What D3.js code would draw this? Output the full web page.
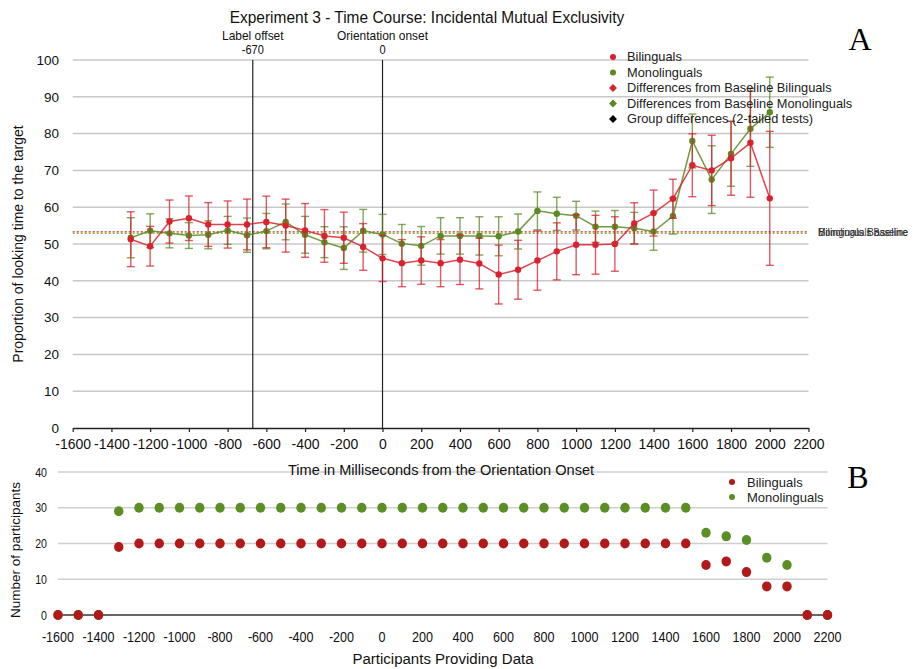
<!DOCTYPE html>
<html>
<head>
<meta charset="utf-8">
<script src="https://cdn.jsdelivr.net/npm/d3@7"></script>
<style>
  html, body { margin: 0; padding: 0; background: #fff; }
  svg { display: block; }
</style>
</head>
<body>
<svg id="chart" width="913" height="669"></svg>
<script>
// ---- Panel A: proportion of looking time to the target ----
const times = [-1300,-1200,-1100,-1000,-900,-800,-700,-600,-500,-400,-300,-200,-100,0,
  100,200,300,400,500,600,700,800,900,1000,1100,1200,1300,1400,1500,1600,1700,1800,1900,2000];

const bilingualMean = [51.3,49.4,56.1,57.0,55.3,55.3,55.3,56.0,55.0,53.7,52.2,51.7,49.2,46.1,
  44.8,45.5,44.8,45.7,44.7,41.7,43.0,45.5,48.0,49.8,49.8,50.0,55.6,58.4,62.3,71.4,70.0,73.3,77.5,62.4];
const bilingualErr = [7.45,5.4,5.85,6.05,5.95,6.4,6.9,7.0,7.2,7.3,7.15,6.95,6.35,6.3,
  6.4,6.45,6.4,6.7,6.9,8.0,8.0,8.05,7.75,8.15,8.0,7.4,5.6,6.25,5.3,8.55,9.55,10.05,14.8,18.2];

const monolingualMean = [51.7,53.6,52.9,52.3,52.5,53.7,52.4,53.5,56.0,52.5,50.5,48.9,53.6,52.6,
  50.1,49.5,52.2,52.2,52.2,52.1,53.4,59.0,58.2,57.7,54.7,54.7,54.3,53.4,57.6,78.0,67.5,74.5,81.3,85.8];
const monolingualErr = [5.45,4.6,3.95,3.5,3.8,3.8,4.65,4.8,4.85,5.0,4.2,5.8,5.8,5.45,
  5.2,5.25,4.95,4.95,5.2,5.3,4.75,5.15,4.5,3.9,4.25,4.4,4.3,5.1,4.9,7.3,9.2,8.8,10.2,9.55];

const bilingualBaseline = 53.3;
const monolingualBaseline = 52.9;

const markerTimes = [-670, 0];
const markerNames = ["Label offset", "Orientation onset"];

const topXTicks = d3.range(-1600, 2201, 200);
const topYTicks = [0,10,20,30,40,50,60,70,80,90,100];

const legendA = ["Bilinguals", "Monolinguals", "Differences from Baseline Bilinguals",
  "Differences from Baseline Monolinguals", "Group differences (2-tailed tests)"];

// ---- Panel B: number of participants providing data ----
const countTimes = d3.range(-1600, 2201, 100);
const bilingualCount = [0,0,0,19,20,20,20,20,20,20,20,20,20,20,20,20,20,20,20,20,20,20,20,20,20,20,20,20,20,20,20,20,14,15,12,8,8,0,0];
const monolingualCount = [0,0,0,29,30,30,30,30,30,30,30,30,30,30,30,30,30,30,30,30,30,30,30,30,30,30,30,30,30,30,30,30,23,22,21,16,14,0,0];
const bottomXTicks = d3.range(-1600, 2201, 200);
const bottomYTicks = [0,10,20,30,40];

// ---- styling ----
const RED = "#d8222f", GREEN = "#5a8a22";
const RED_DOT = "#b21a1a", GREEN_DOT = "#5b8e25";
const SANS = "'Liberation Sans', Arial, Helvetica, sans-serif";
const SERIF = "'Liberation Serif', 'Times New Roman', serif";

const svg = d3.select("#chart");

// condensed text: regular sans squeezed horizontally around its anchor point
function narrowText(parent, x, y, str, size, sx, anchor) {
  return parent.append("text")
    .attr("transform", `translate(${x},${y}) scale(${sx},1)`)
    .attr("text-anchor", anchor || "middle")
    .attr("font-family", SANS).attr("font-size", size).attr("fill", "#111")
    .text(str);
}

// scales
const xA = d3.scaleLinear().domain([-1600, 2200]).range([72.7, 808.5]);
const yA = d3.scaleLinear().domain([0, 100]).range([428, 60]);
const xB = d3.scaleLinear().domain([-1600, 2200]).range([58, 827.5]);
const yB = d3.scaleLinear().domain([0, 40]).range([615, 472]);

// ================= Panel A =================
const gA = svg.append("g");

// horizontal gridlines
gA.selectAll("line.grid").data(topYTicks.filter(d => d > 0)).join("line")
  .attr("x1", xA(-1600)).attr("x2", xA(2200))
  .attr("y1", d => yA(d)).attr("y2", d => yA(d))
  .attr("stroke", "#c8c8c8").attr("stroke-width", 1.5);

// y tick labels
gA.selectAll("text.ytick").data(topYTicks).join("text")
  .attr("x", 59).attr("y", d => yA(d)).attr("dy", "0.35em")
  .attr("text-anchor", "end")
  .attr("font-family", SANS).attr("font-size", 13.5).attr("fill", "#111")
  .text(d => d);

// x axis
const axA = d3.axisBottom(xA).tickValues(topXTicks).tickSize(4).tickSizeOuter(0).tickPadding(7)
  .tickFormat(d => d);
const axAg = gA.append("g").attr("transform", `translate(0,${yA(0)})`).call(axA);
axAg.select(".domain").attr("stroke", "#222").attr("stroke-width", 1.5);
axAg.selectAll(".tick line").attr("stroke", "#222").attr("stroke-width", 1.2);
axAg.selectAll(".tick text").attr("font-family", SANS).attr("font-size", 14).attr("fill", "#111");

// baselines
[[bilingualBaseline, "#e0202a", "Bilinguals Baseline"],
 [monolingualBaseline, "#7fbf3a", "Monolinguals Baseline"]].forEach(([v, c, label]) => {
  gA.append("line")
    .attr("x1", xA(-1600)).attr("x2", xA(2200))
    .attr("y1", yA(v)).attr("y2", yA(v))
    .attr("stroke", c).attr("stroke-width", 1.3).attr("stroke-dasharray", "2,2");
  gA.append("text")
    .attr("x", 818).attr("y", yA(53.1)).attr("dy", "0.35em")
    .attr("font-family", SANS).attr("font-size", 10.5).attr("fill", "#333")
    .attr("textLength", 90).attr("lengthAdjust", "spacingAndGlyphs")
    .text(label);
});

// event markers
markerTimes.forEach((t, i) => {
  gA.append("line")
    .attr("x1", xA(t)).attr("x2", xA(t)).attr("y1", yA(100)).attr("y2", yA(0))
    .attr("stroke", "#222").attr("stroke-width", 1.2);
  narrowText(gA, xA(t), 40, markerNames[i], 13, 0.92);
  narrowText(gA, xA(t), 54, t, 12, 0.92);
});

// series
function drawSeries(mean, err, color) {
  const data = times.map((t, i) => ({ t, m: mean[i], e: err[i] }));
  const g = gA.append("g");
  const bars = g.selectAll("g.bar").data(data).join("g").attr("stroke", color)
    .attr("stroke-width", 1.4).attr("stroke-opacity", 0.75);
  bars.append("line").attr("x1", d => xA(d.t)).attr("x2", d => xA(d.t))
    .attr("y1", d => yA(d.m - d.e)).attr("y2", d => yA(d.m + d.e));
  bars.append("line").attr("x1", d => xA(d.t) - 4).attr("x2", d => xA(d.t) + 4)
    .attr("y1", d => yA(d.m - d.e)).attr("y2", d => yA(d.m - d.e));
  bars.append("line").attr("x1", d => xA(d.t) - 4).attr("x2", d => xA(d.t) + 4)
    .attr("y1", d => yA(d.m + d.e)).attr("y2", d => yA(d.m + d.e));
  g.append("path").datum(data)
    .attr("d", d3.line().x(d => xA(d.t)).y(d => yA(d.m)))
    .attr("fill", "none").attr("stroke", color).attr("stroke-width", 1.5).attr("stroke-opacity", 0.85);
  g.selectAll("circle").data(data).join("circle")
    .attr("cx", d => xA(d.t)).attr("cy", d => yA(d.m)).attr("r", 3.2).attr("fill", color);
}
drawSeries(monolingualMean, monolingualErr, GREEN);
drawSeries(bilingualMean, bilingualErr, RED);

// legend A
const legA = gA.append("g");
const legColors = [RED, GREEN, RED, GREEN, "#000"];
legendA.forEach((label, i) => {
  const y = 57 + i * 15.5;
  if (i < 2) {
    legA.append("circle").attr("cx", 613).attr("cy", y).attr("r", 3).attr("fill", legColors[i]);
  } else {
    legA.append("path").attr("d", d3.symbol(d3.symbolDiamond2, 40)())
      .attr("transform", `translate(613,${y})`).attr("fill", legColors[i]);
  }
  legA.append("text").attr("x", 627).attr("y", y).attr("dy", "0.35em")
    .attr("font-family", SANS).attr("font-size", 12.8).attr("fill", "#222").text(label);
});

// title and axis titles
narrowText(svg, 427, 23, "Experiment 3 - Time Course: Incidental Mutual Exclusivity", 17, 0.91);
svg.append("text").attr("transform", "translate(23,244) rotate(-90)").attr("text-anchor", "middle")
  .attr("font-family", SANS).attr("font-size", 14).attr("fill", "#111")
  .text("Proportion of looking time to the target");
svg.append("text").attr("x", 860).attr("y", 50).attr("text-anchor", "middle")
  .attr("font-family", SERIF).attr("font-size", 32).attr("fill", "#000").text("A");

// ================= Panel B =================
const gB = svg.append("g");

gB.selectAll("line.grid").data(bottomYTicks.filter(d => d > 0)).join("line")
  .attr("x1", xB(-1600)).attr("x2", xB(2200))
  .attr("y1", d => yB(d)).attr("y2", d => yB(d))
  .attr("stroke", "#cfcfcf").attr("stroke-width", 1.5);

// x-axis title of panel A sits over the top gridline of panel B
narrowText(svg, 441, 475, "Time in Milliseconds from the Orientation Onset", 15.5, 0.94);

gB.append("line").attr("x1", xB(-1600)).attr("x2", xB(2200))
  .attr("y1", yB(0)).attr("y2", yB(0)).attr("stroke", "#333").attr("stroke-width", 1.5);

bottomYTicks.forEach(d => narrowText(gB, 47, yB(d) + 4.5, d, 12.5, 0.85, "end"));
bottomXTicks.forEach(d => narrowText(gB, xB(d), 641.5, d, 15, 0.84));

const countData = countTimes.map((t, i) => ({ t, b: bilingualCount[i], m: monolingualCount[i] }));
gB.selectAll("ellipse.mono").data(countData).join("ellipse")
  .attr("cx", d => xB(d.t)).attr("cy", d => yB(d.m)).attr("rx", 4.7).attr("ry", 5)
  .attr("fill", GREEN_DOT);
gB.selectAll("ellipse.bi").data(countData).join("ellipse")
  .attr("cx", d => xB(d.t)).attr("cy", d => yB(d.b)).attr("rx", 4.7).attr("ry", 5)
  .attr("fill", RED_DOT);

// legend B
[["Bilinguals", RED_DOT], ["Monolinguals", GREEN_DOT]].forEach(([label, c], i) => {
  const y = 482 + i * 15;
  gB.append("circle").attr("cx", 732).attr("cy", y).attr("r", 3).attr("fill", c);
  gB.append("text").attr("x", 747).attr("y", y).attr("dy", "0.35em")
    .attr("font-family", SANS).attr("font-size", 13).attr("fill", "#222").text(label);
});

svg.append("text").attr("transform", "translate(20,550) rotate(-90)").attr("text-anchor", "middle")
  .attr("font-family", SANS).attr("font-size", 13.5).attr("fill", "#111").text("Number of participants");
narrowText(svg, 443, 664, "Participants Providing Data", 15.5, 0.97);
svg.append("text").attr("x", 858).attr("y", 488).attr("text-anchor", "middle")
  .attr("font-family", SERIF).attr("font-size", 32).attr("fill", "#000").text("B");
</script>
</body>
</html>
